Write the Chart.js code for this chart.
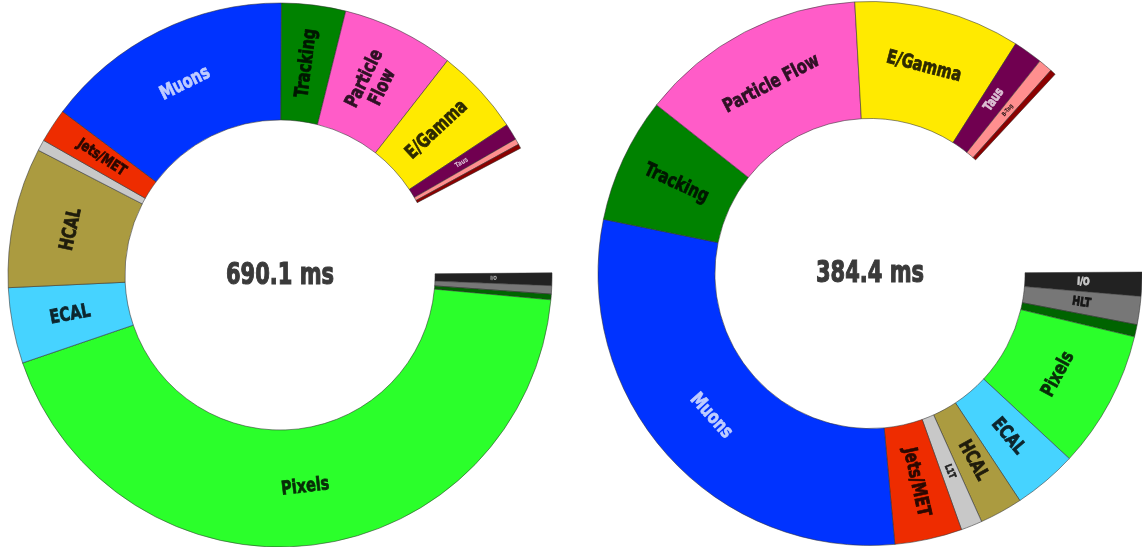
<!DOCTYPE html>
<html>
<head>
<meta charset="utf-8">
<script src="https://cdn.jsdelivr.net/npm/chart.js@4.4.0/dist/chart.umd.min.js"></script>
<style>
html, body { margin: 0; padding: 0; background: #fff; overflow: hidden; width: 1142px; height: 547px; }
.caja { position: absolute; top: 0; width: 560px; height: 547px; }
</style>
</head>
<body>
<div class="caja" style="left:0px"><canvas id="graph_izq" width="560" height="547"></canvas></div>
<div class="caja" style="left:590px"><canvas id="graph_der" width="560" height="547"></canvas></div>
<script>
// tiempos por categoria (ms), en el orden de las agujas del reloj desde las 3
var categorias = ["I/O", "HLT", "Vertexing", "Pixels", "ECAL", "HCAL", "L1T", "Jets/MET", "Muons",
                  "Tracking", "Particle Flow", "E/Gamma", "Taus", "B-Tag", "PU"];
var tiempos_izq = [5.6, 3.7, 2.5, 323.4, 33.6, 62.2, 4.9, 15.1, 110.7, 28.4, 49.8, 38.4, 7.3, 2.6, 1.9];
var tiempos_der = [6.3, 7.4, 3.2, 36.1, 16.8, 11.3, 5.6, 17.7, 131.0, 32.9, 59.5, 43.7, 7.7, 3.7, 1.5];
var colores = ['#222222', '#777777', '#006400', '#2bff2b', '#46d3ff', '#ab9b40', '#c8c8c8', '#ee2c00',
               '#0033ff', '#008200', '#ff5cc8', '#ffea00', '#700050', '#ff8f8f', '#8b0000'];

var fuente = '"DejaVu Sans", sans-serif';
var estrecho = 0.76;   // la letra original es muy condensada

function colorTexto(hex) {
    var r = parseInt(hex.substr(1, 2), 16), g = parseInt(hex.substr(3, 2), 16), b = parseInt(hex.substr(5, 2), 16);
    var lum = (0.299 * r + 0.587 * g + 0.114 * b) / 255;
    if (lum < 0.26) {
        r = Math.round(r + (255 - r) * 0.75); g = Math.round(g + (255 - g) * 0.75); b = Math.round(b + (255 - b) * 0.75);
    } else {
        r = Math.round(r * 0.18); g = Math.round(g * 0.18); b = Math.round(b * 0.18);
    }
    return 'rgb(' + r + ',' + g + ',' + b + ')';
}

var etiquetas = {
    id: 'etiquetas',
    afterDatasetsDraw: function(chart) {
        var ctx = chart.ctx;
        var meta = chart.getDatasetMeta(0);
        meta.data.forEach(function(arc, i) {
            var p = arc.getProps(['x', 'y', 'startAngle', 'endAngle', 'innerRadius', 'outerRadius'], true);
            var a = (p.startAngle + p.endAngle) / 2;
            var rm = (p.innerRadius + p.outerRadius) / 2;
            var grueso = p.outerRadius - p.innerRadius;
            var largo = (p.endAngle - p.startAngle) * rm;
            if (largo < 9.9) return;
            var texto = chart.data.labels[i];
            var lineas = [texto];
            var size, rot, w;
            ctx.save();
            if (largo > 0.9 * grueso) {
                size = 19;
                ctx.font = 'bold ' + size + 'px ' + fuente;
                w = ctx.measureText(texto).width * estrecho;
                if (w > largo * 0.85) size = size * largo * 0.85 / w;
                rot = Math.sin(a) > 0 ? a - Math.PI / 2 : a + Math.PI / 2;
            } else {
                size = Math.min(19, largo * 0.55);
                ctx.font = 'bold ' + size + 'px ' + fuente;
                w = ctx.measureText(texto).width * estrecho;
                if (w > grueso * 0.85) {
                    var partes = texto.split(' ');
                    if (partes.length > 1 && 2 * size * 1.05 < largo * 0.8) lineas = partes;
                    else size = size * grueso * 0.85 / w;
                }
                rot = Math.cos(a) >= 0 ? a : a + Math.PI;
            }
            ctx.font = 'bold ' + size + 'px ' + fuente;
            ctx.translate(p.x + Math.cos(a) * rm, p.y + Math.sin(a) * rm);
            ctx.rotate(rot);
            ctx.scale(estrecho, 1);
            ctx.fillStyle = colorTexto(colores[i]);
            ctx.strokeStyle = ctx.fillStyle;
            ctx.lineWidth = 0.8;
            ctx.textAlign = 'center';
            ctx.textBaseline = 'middle';
            lineas.forEach(function(l, k) {
                var dy = (k - (lineas.length - 1) / 2) * size * 1.05;
                ctx.fillText(l, 0, dy);
                if (size > 9) ctx.strokeText(l, 0, dy);
            });
            ctx.restore();
        });

        // total en el centro
        var total = chart.data.datasets[0].data.reduce(function(s, v) { return s + v; }, 0);
        var c = meta.data[0];
        ctx.save();
        ctx.translate(c.x, c.y + 1);
        ctx.scale(0.7, 1);
        ctx.font = 'bold 30px ' + fuente;
        ctx.fillStyle = '#3a3a3a';
        ctx.strokeStyle = '#3a3a3a';
        ctx.lineWidth = 1.2;
        ctx.textAlign = 'center';
        ctx.textBaseline = 'middle';
        ctx.fillText(total.toFixed(1) + ' ms', 0, 0);
        ctx.strokeText(total.toFixed(1) + ' ms', 0, 0);
        ctx.restore();
    }
};

function graficar(id, datos, rotacion, circunferencia, arriba) {
    return new Chart(document.getElementById(id).getContext('2d'), {
        type: 'doughnut',
        data: {
            labels: categorias,
            datasets: [{
                data: datos,
                backgroundColor: colores,
                borderColor: 'rgba(50,50,50,0.55)',
                borderWidth: 1
            }]
        },
        options: {
            responsive: false,
            animation: false,
            rotation: rotacion,
            circumference: circunferencia,
            radius: 272,
            cutout: '57%',
            layout: { padding: { top: arriba } },
            plugins: { legend: { display: false }, tooltip: { enabled: false } }
        },
        plugins: [etiquetas]
    });
}

var grafico_izq = graficar('graph_izq', tiempos_izq, 89.55, 332.65, 3);
var grafico_der = graficar('graph_der', tiempos_der, 89.7, 313.2, 0);
</script>
</body>
</html>
